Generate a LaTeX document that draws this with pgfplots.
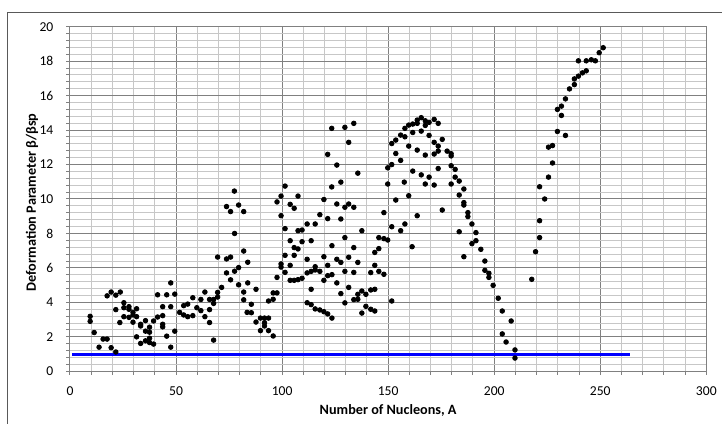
\documentclass[border=0pt]{standalone}
\usepackage{fontspec}
\setmainfont{Carlito}
\usepackage{pgfplots}
\pgfplotsset{compat=1.18}
\usepackage{pgfplotstable}

\pgfplotstableread{
A beta
9.5 3.19
9.5 2.90
11.4 2.25
13.7 1.40
15.6 1.87
17.5 1.87
17.5 4.38
19.4 4.60
19.4 1.37
21.6 1.12
21.6 4.42
21.6 3.58
23.7 4.60
23.5 2.83
25.4 3.98
25.4 3.69
25.4 3.17
27.8 3.75
27.8 3.60
27.8 3.13
29.7 3.42
29.7 3.27
29.7 2.85
31.4 3.63
31.4 3.17
31.4 2.00
33.3 2.73
33.3 2.63
33.3 1.62
35.6 2.94
35.6 2.33
35.6 1.77
37.5 2.56
37.5 2.27
37.5 1.92
37.5 1.67
39.4 2.92
39.4 1.58
41.3 4.44
41.3 3.15
43.7 3.23
43.7 3.75
43.7 2.73
43.7 2.58
45.6 4.44
45.6 2.04
47.5 5.13
47.5 3.75
47.5 1.40
49.4 4.48
49.4 2.33
51.7 3.42
53.6 3.27
53.6 3.81
55.5 3.17
55.5 3.90
57.9 4.27
57.9 3.23
59.8 3.69
61.7 4.17
61.7 3.52
63.6 4.60
63.6 3.17
65.8 4.17
65.8 3.58
65.8 2.83
67.7 4.17
67.7 3.94
67.7 1.81
69.6 6.63
69.6 4.58
69.6 4.31
71.5 4.87
73.8 9.56
73.8 6.52
73.8 5.71
75.7 9.27
75.7 6.63
75.7 5.31
77.5 10.46
77.6 8.00
77.6 5.81
79.5 9.65
79.5 6.02
79.5 5.02
81.9 9.27
81.9 6.98
81.9 4.60
81.9 4.15
83.8 6.33
83.8 5.13
83.5 3.42
85.5 3.40
85.5 3.89
87.7 4.76
87.7 2.86
89.8 3.09
89.8 2.36
91.7 3.09
91.7 2.82
91.7 2.63
93.6 3.09
93.6 2.36
93.6 4.08
95.8 2.05
95.8 4.18
95.8 4.55
97.6 4.55
97.6 5.45
97.6 9.83
99.5 9.03
99.5 10.17
99.5 6.23
99.5 6.05
101.4 10.75
101.4 8.28
101.4 6.73
101.4 5.74
103.8 9.69
103.8 7.58
103.8 6.15
103.8 5.28
105.7 9.46
105.7 7.18
105.7 6.73
105.7 5.28
107.5 10.17
107.5 8.16
107.5 7.10
107.5 5.32
109.4 8.20
109.4 7.52
109.4 5.40
111.8 8.55
111.8 6.50
111.8 5.71
111.8 3.98
113.7 7.58
113.7 5.80
113.7 4.76
113.7 3.87
115.6 8.55
115.6 6.07
115.6 5.88
115.6 3.62
117.8 9.09
117.8 5.80
117.8 3.56
119.7 9.97
119.7 6.65
119.7 5.28
119.7 3.46
121.5 12.59
121.5 8.86
121.5 6.15
121.5 5.55
121.5 3.33
123.4 14.10
123.4 10.70
123.5 7.29
123.5 5.61
123.5 3.09
125.8 11.97
125.8 9.71
125.8 6.50
125.8 5.13
127.7 10.98
127.7 8.84
127.7 6.32
127.7 4.51
129.6 14.16
129.6 9.52
129.6 7.76
129.6 5.80
129.6 3.97
131.4 13.29
131.4 9.71
131.4 6.62
131.4 4.87
133.8 14.39
133.8 9.52
133.8 7.18
133.8 5.74
133.8 4.16
135.7 11.50
135.7 6.32
135.7 4.47
135.7 4.18
137.6 8.16
137.6 4.66
137.6 3.38
139.5 4.47
139.5 3.77
141.8 5.73
141.8 4.72
141.8 3.60
143.7 6.90
143.7 6.15
143.7 4.76
143.7 3.50
145.6 7.76
145.6 7.12
145.6 5.80
148.0 9.21
148.0 7.70
148.0 5.63
149.8 7.62
149.8 11.81
149.8 10.87
151.7 12.00
151.7 13.22
151.7 8.39
151.7 4.08
153.6 13.42
153.6 12.64
153.6 9.94
155.9 13.71
155.9 12.24
155.9 8.16
157.9 14.10
157.9 13.61
157.6 10.98
157.9 8.55
159.7 14.29
159.7 13.07
159.7 10.19
161.6 14.35
161.6 13.86
161.6 11.62
161.3 7.23
163.7 14.39
163.7 14.58
163.7 12.84
163.7 9.03
165.6 14.72
165.6 13.94
165.6 11.40
167.5 14.54
167.5 14.27
167.5 12.55
167.5 10.87
169.3 14.45
169.3 13.69
169.3 11.27
171.7 14.62
171.7 13.29
171.7 12.61
171.7 10.81
173.6 14.39
173.6 13.07
173.6 12.78
173.6 11.77
175.5 13.46
175.5 9.36
177.8 12.78
179.7 12.63
179.7 12.50
179.7 11.93
179.7 10.87
181.6 11.72
181.6 11.27
183.5 11.04
183.5 10.23
183.5 8.10
185.7 10.58
185.7 9.79
185.7 9.65
185.7 6.65
187.6 9.21
187.6 8.98
189.5 8.55
189.5 7.41
191.4 8.05
191.4 7.58
193.7 7.08
195.6 6.40
195.6 5.86
197.5 5.69
197.5 5.45
199.5 4.99
201.9 4.24
203.8 3.50
208.0 2.92
203.8 2.17
205.6 1.70
209.8 1.24
209.8 0.77
217.7 5.34
219.5 6.94
221.4 7.76
221.4 8.74
223.8 10.00
221.4 10.71
225.6 11.27
227.5 12.09
225.6 13.01
227.5 13.10
229.8 13.92
233.6 13.69
229.8 15.20
231.7 15.39
231.7 14.85
233.6 15.81
235.5 16.39
237.8 16.64
237.8 16.97
239.7 17.13
241.6 17.32
243.4 17.44
239.7 18.02
243.4 18.02
245.8 18.08
247.7 18.02
249.5 18.49
251.4 18.78
}\betadata

\begin{document}
\begin{tikzpicture}
% page = 722 x 423 px at 2 px per pt; origin = lower left of plot area
\useasboundingbox (-35pt,-25.85pt) rectangle (326pt,185.65pt);
\draw[black!65, line width=0.5pt] (-31pt,-40pt) -- (-31pt,179.15pt) -- (340pt,179.15pt);
\begin{axis}[
    width=318.15pt, height=172.3pt, scale only axis,
    xmin=0, xmax=300, ymin=0, ymax=20,
    xtick={0,50,...,300}, ytick={0,2,...,20},
    minor x tick num=4, minor y tick num=4,
    grid=both,
    major grid style={black!50, line width=0.5pt},
    minor grid style={black!22, line width=0.5pt},
    axis line style={black!50, line width=0.5pt},
    tick align=outside, tick pos=left,
    tick style={black!50, line width=0.5pt},
    major tick length=1.8pt, minor tick length=1.8pt,
    /pgf/number format/assume math mode=true,
    ticklabel style={font=\fontsize{6.8}{7.5}\selectfont},
    yticklabel style={xshift=-3pt},
    xticklabel style={yshift=-2.3pt},
    label style={font=\fontsize{7.1}{8}\selectfont\bfseries},
    xlabel={Number of Nucleons, A},
    ylabel={Deformation Parameter β/βsp},
    xlabel style={at={(axis description cs:0.5,-0.1123)}, anchor=center},
    ylabel style={at={(axis description cs:-0.0597,0.49)}, anchor=center, rotate=0},
    clip=false,
]
\addplot[blue, line width=1.5pt] coordinates {(1,0.95) (264,0.95)};
\addplot[only marks, mark=*, mark size=1.15pt, black] table[x=A, y=beta] {\betadata};
\end{axis}
\end{tikzpicture}
\end{document}
